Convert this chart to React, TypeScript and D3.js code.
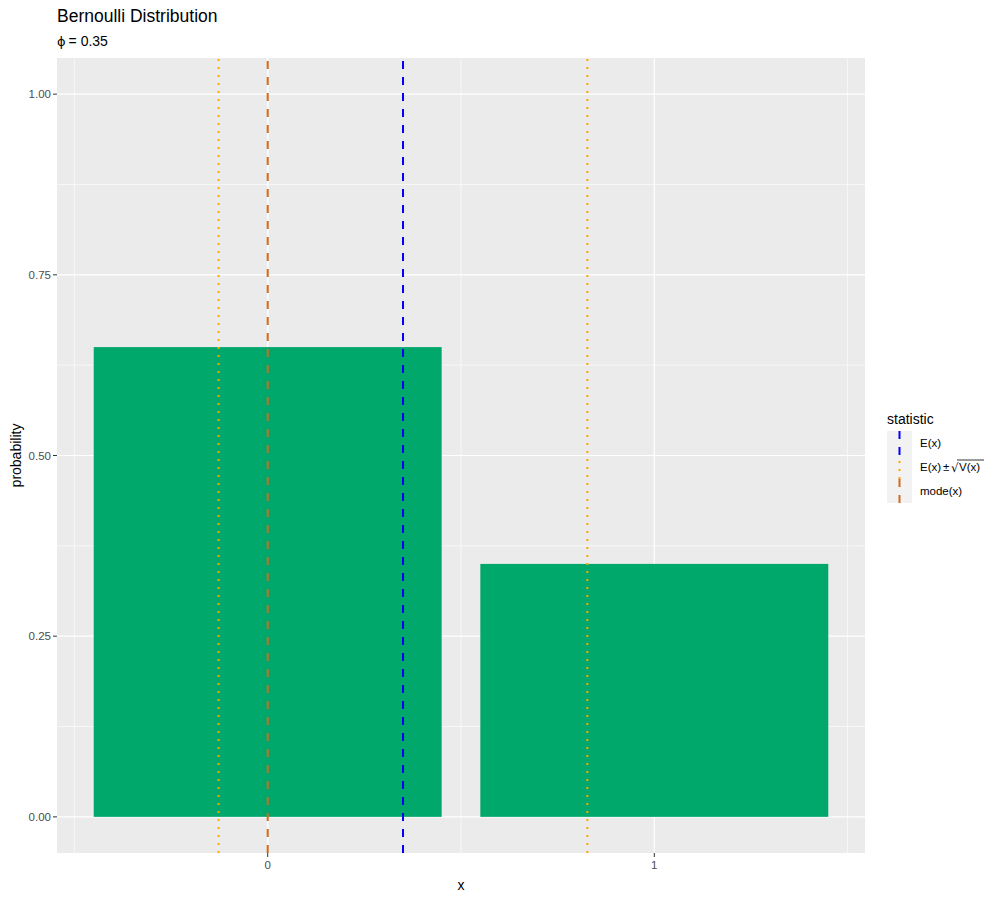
import * as d3 from "d3";

const xValues = [0, 1];
const probabilities = [0.65, 0.35];
const xBreaks = [0, 1];
const xMinor = [-0.5, 0.5, 1.5];
const yBreaks = [0, 0.25, 0.5, 0.75, 1.0];
const yMinor = [0.125, 0.375, 0.625, 0.875];
const yTickLabels = ["0.00", "0.25", "0.50", "0.75", "1.00"];

// vertical reference lines: statistic, value
const statNames = ["E(x)", "E(x)±√V(x)", "mode(x)"];
const expectation = [0.35];
const plusMinusSd = [-0.127, 0.827];
const modes = [0];

const statColor: Record<string, string> = {
  "E(x)": "#0000FF",
  "E(x)±√V(x)": "#FFA500",
  "mode(x)": "#D2691E",
};
const statDash: Record<string, string> = {
  "E(x)": "8,8",
  "E(x)±√V(x)": "2,6",
  "mode(x)": "8,8",
};

const W = 1000;
const H = 900;
const panel = { left: 57, right: 865, top: 58, bottom: 853 };
const font = "'Liberation Sans', Arial, sans-serif";

export default function App() {
  const x = d3.scaleLinear().domain([-0.545, 1.545]).range([panel.left, panel.right]);
  const y = d3.scaleLinear().domain([-0.05, 1.05]).range([panel.bottom, panel.top]);
  const barHalf = 0.45;

  const lines: { stat: string; v: number }[] = [
    ...plusMinusSd.map((v) => ({ stat: statNames[1], v })),
    ...modes.map((v) => ({ stat: statNames[2], v })),
    ...expectation.map((v) => ({ stat: statNames[0], v })),
  ];

  const legendX = 887;
  const legendTop = 431;
  const rowH = 24;

  return (
    <svg
      width={W}
      height={H}
      style={{ position: "absolute", left: 0, top: 0, display: "block" }}
      fontFamily={font}
    >
      <rect width={W} height={H} fill="#FFFFFF" />
      <text x={57} y={22} fontSize={17.5} fill="#000">Bernoulli Distribution</text>
      <text x={57} y={46} fontSize={14} fill="#000">
        <tspan fontFamily="'DejaVu Sans', sans-serif" fontSize={13}>ϕ</tspan>
        <tspan dx={3}>= 0.35</tspan>
      </text>

      <rect
        x={panel.left}
        y={panel.top}
        width={panel.right - panel.left}
        height={panel.bottom - panel.top}
        fill="#EBEBEB"
      />
      {yMinor.map((v) => (
        <line key={"ym" + v} x1={panel.left} x2={panel.right} y1={y(v)} y2={y(v)} stroke="#fff" strokeWidth={0.6} />
      ))}
      {xMinor.map((v) => (
        <line key={"xm" + v} x1={x(v)} x2={x(v)} y1={panel.top} y2={panel.bottom} stroke="#fff" strokeWidth={0.6} />
      ))}
      {yBreaks.map((v) => (
        <line key={"yM" + v} x1={panel.left} x2={panel.right} y1={y(v)} y2={y(v)} stroke="#fff" strokeWidth={1.2} />
      ))}
      {xBreaks.map((v) => (
        <line key={"xM" + v} x1={x(v)} x2={x(v)} y1={panel.top} y2={panel.bottom} stroke="#fff" strokeWidth={1.2} />
      ))}

      {xValues.map((xv, i) => (
        <rect
          key={"bar" + xv}
          x={x(xv - barHalf)}
          width={x(xv + barHalf) - x(xv - barHalf)}
          y={y(probabilities[i])}
          height={y(0) - y(probabilities[i])}
          fill="#00A86B"
        />
      ))}

      {lines.map((l, i) => (
        <line
          key={"stat" + i}
          x1={x(l.v)}
          x2={x(l.v)}
          y1={panel.bottom}
          y2={panel.top}
          stroke={statColor[l.stat]}
          strokeWidth={2}
          strokeDasharray={statDash[l.stat]}
        />
      ))}

      {/* y axis */}
      {yBreaks.map((v, i) => (
        <g key={"yt" + v}>
          <line x1={panel.left - 4} x2={panel.left} y1={y(v)} y2={y(v)} stroke="#333" strokeWidth={1} />
          <text x={panel.left - 6} y={y(v)} dy="0.35em" textAnchor="end" fontSize={11.5} fill="#4D4D4D">
            {yTickLabels[i]}
          </text>
        </g>
      ))}
      {/* x axis */}
      {xBreaks.map((v) => (
        <g key={"xt" + v}>
          <line x1={x(v)} x2={x(v)} y1={panel.bottom} y2={panel.bottom + 4} stroke="#333" strokeWidth={1} />
          <text x={x(v)} y={panel.bottom + 16} textAnchor="middle" fontSize={11.5} fill="#4D4D4D">
            {v}
          </text>
        </g>
      ))}
      <text x={(panel.left + panel.right) / 2} y={890} textAnchor="middle" fontSize={14} fill="#000">x</text>
      <text
        transform={`translate(21,${(panel.top + panel.bottom) / 2}) rotate(-90)`}
        textAnchor="middle"
        fontSize={14}
        fill="#000"
      >
        probability
      </text>

      {/* legend */}
      <text x={legendX} y={424} fontSize={14} fill="#000">statistic</text>
      {statNames.map((s, i) => {
        const cy = legendTop + i * rowH;
        const ty = cy + rowH / 2 + 4;
        return (
          <g key={"lg" + s}>
            <rect x={legendX} y={cy} width={25} height={rowH} fill="#F2F2F2" />
            <line
              x1={legendX + 12.5}
              x2={legendX + 12.5}
              y1={cy + rowH}
              y2={cy}
              stroke={statColor[s]}
              strokeWidth={2}
              strokeDasharray={statDash[s]}
            />
            {s === statNames[1] ? (
              <g fontSize={11.5} fill="#000">
                <text x={920} y={ty}>E(x)</text>
                <text x={943} y={ty}>±</text>
                <text x={951} y={ty + 1} fontFamily="'DejaVu Sans', sans-serif" fontSize={12}>√</text>
                <text x={959} y={ty}>V(x)</text>
                <line x1={957} x2={984} y1={cy + 5} y2={cy + 5} stroke="#000" strokeWidth={0.8} />
              </g>
            ) : (
              <text x={920} y={ty} fontSize={11.5} fill="#000">{s}</text>
            )}
          </g>
        );
      })}
    </svg>
  );
}
